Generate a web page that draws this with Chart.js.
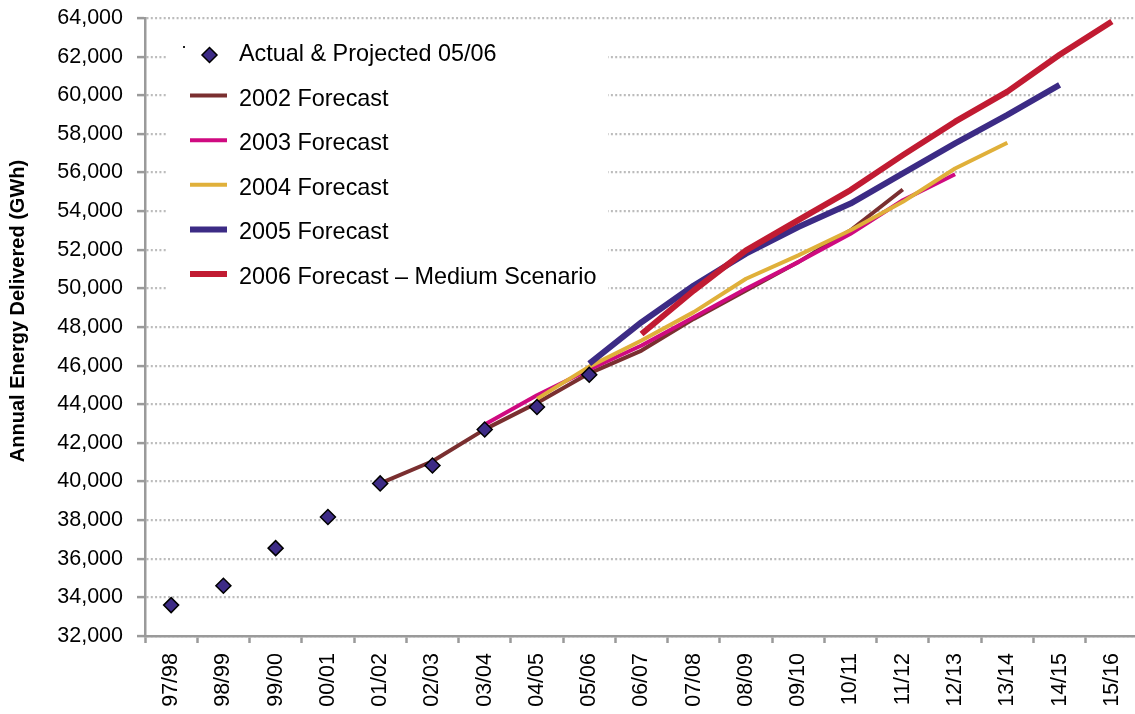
<!DOCTYPE html>
<html>
<head>
<meta charset="utf-8">
<title>Annual Energy Delivered</title>
<script src="https://cdn.jsdelivr.net/npm/chart.js@4.4.1/dist/chart.umd.min.js"></script>
<style>
  html, body { margin: 0; padding: 0; background: #fff; overflow: hidden; }
  #wrap { width: 1147px; height: 714px; }
</style>
</head>
<body>
<div id="wrap"><canvas id="c" width="1147" height="714"></canvas></div>
<script>
// Fiscal years on the category axis
const categories = ['97/98','98/99','99/00','00/01','01/02','02/03','03/04','04/05','05/06','06/07',
                    '07/08','08/09','09/10','10/11','11/12','12/13','13/14','14/15','15/16'];

// Annual energy delivered, GWh (null = no value for that year)
const actual     = [33600, 34600, 36550, 38160, 39900, 40830, 42690, 43860, 45530,
                    null, null, null, null, null, null, null, null, null, null];
const fc2002     = [null, null, null, null, 39900, 41050, 42700, 44070, 45600, 46780,
                    48420, 49890, 51360, 53010, 55120, null, null, null, null];
const fc2003     = [null, null, null, null, null, null, 42950, 44470, 45800, 47040,
                    48510, 49980, 51360, 52830, 54560, 55910, null, null, null];
const fc2004     = [null, null, null, null, null, null, null, 44280, 45950, 47300,
                    48770, 50500, 51710, 53010, 54480, 56210, 57540, null, null];
const fc2005     = [null, null, null, null, null, null, null, null, 46100, 48250,
                    50150, 51800, 53180, 54390, 55950, 57510, 58980, 60540, null];
const fc2006     = [null, null, null, null, null, null, null, null, null, 47640,
                    49890, 51970, 53530, 55090, 56900, 58630, 60190, 62100, 63820];

// Value axis range
const yMin = 32000, yMax = 64000, yStep = 2000;

const FONT = "'Liberation Sans', Arial, Helvetica, sans-serif";

const lineSet = (label, data, color, width, order) => ({
  label, data, borderColor: color, backgroundColor: color, borderWidth: width,
  pointRadius: 0, pointHoverRadius: 0, tension: 0, spanGaps: false,
  borderCapStyle: 'butt', borderJoinStyle: 'round', fill: false, order
});

const datasets = [
  {
    label: 'Actual & Projected 05/06', data: actual, showLine: false,
    pointStyle: 'rectRot', pointRadius: 7.5, pointHoverRadius: 7.5,
    pointBackgroundColor: '#3d2b86', pointBorderColor: '#000', pointBorderWidth: 1.5,
    borderColor: '#3d2b86', backgroundColor: '#3d2b86', order: 0
  },
  lineSet('2002 Forecast', fc2002, '#7a2f30', 4, 5),
  lineSet('2003 Forecast', fc2003, '#cf0a80', 4, 4),
  lineSet('2004 Forecast', fc2004, '#e0b03a', 4, 3),
  lineSet('2005 Forecast', fc2005, '#3c2b85', 6, 2),
  lineSet('2006 Forecast \u2013 Medium Scenario', fc2006, '#c11b32', 6, 1)
];

// White panel behind the key, painted over the grid
const keyPanel = {
  id: 'keyPanel',
  beforeDatasetsDraw(chart) {
    const ctx = chart.ctx;
    ctx.save();
    ctx.fillStyle = '#fff';
    ctx.fillRect(168, 34, 440, 270);
    ctx.restore();
  }
};

// Key drawn inside the plot, one row per series
const keyItems = {
  id: 'keyItems',
  afterDraw(chart) {
    const ctx = chart.ctx;
    const x0 = 190, x1 = 227, tx = 239, rowTop = 53, rowGap = 44.6;
    ctx.save();
    ctx.font = `23.4px ${FONT}`;
    ctx.textBaseline = 'alphabetic';
    ctx.textAlign = 'left';
    chart.data.datasets.forEach((ds, i) => {
      const cy = rowTop + i * rowGap;
      if (ds.showLine === false) {
        // tiny key tick and the diamond marker
        ctx.fillStyle = '#222';
        ctx.fillRect(x0 - 7, cy - 7, 2, 2);
        const r = ds.pointRadius;
        const mx = (x0 + x1) / 2 + 1, my = cy + 2;
        ctx.beginPath();
        ctx.moveTo(mx, my - r);
        ctx.lineTo(mx + r, my);
        ctx.lineTo(mx, my + r);
        ctx.lineTo(mx - r, my);
        ctx.closePath();
        ctx.fillStyle = ds.pointBackgroundColor;
        ctx.fill();
        ctx.lineWidth = ds.pointBorderWidth;
        ctx.strokeStyle = ds.pointBorderColor;
        ctx.stroke();
      } else {
        ctx.beginPath();
        ctx.moveTo(x0, cy - 2);
        ctx.lineTo(x1, cy - 2);
        ctx.lineWidth = ds.borderWidth;
        ctx.strokeStyle = ds.borderColor;
        ctx.lineCap = 'butt';
        ctx.stroke();
      }
      ctx.fillStyle = '#000';
      ctx.fillText(ds.label, tx, cy + 8);
    });
    ctx.restore();
  }
};

// Vertical title of the value axis
const valueTitle = {
  id: 'valueTitle',
  afterDraw(chart) {
    const ctx = chart.ctx;
    ctx.save();
    ctx.translate(18, 311);
    ctx.rotate(-Math.PI / 2);
    ctx.font = `bold 20px ${FONT}`;
    ctx.fillStyle = '#000';
    ctx.textAlign = 'center';
    ctx.textBaseline = 'middle';
    ctx.fillText('Annual Energy Delivered (GWh)', 0, 0);
    ctx.restore();
  }
};

new Chart(document.getElementById('c'), {
  type: 'line',
  data: { labels: categories, datasets },
  plugins: [keyPanel, keyItems, valueTitle],
  options: {
    responsive: false,
    animation: false,
    events: [],
    layout: { padding: { top: 18, right: 0, left: 0, bottom: 0 } },
    plugins: { legend: { display: false }, tooltip: { enabled: false } },
    scales: {
      x: {
        type: 'category',
        offset: true,
        grid: {
          offset: true, drawOnChartArea: false, drawTicks: true,
          tickLength: 7, tickColor: '#9a9a9a', tickWidth: 2.5, tickBorderDash: []
        },
        border: { color: '#9a9a9a', width: 2.5 },
        ticks: {
          color: '#000', font: { family: FONT, size: 21.5 },
          maxRotation: 90, minRotation: 90, autoSkip: false, padding: 10
        },
        afterFit(scale) { scale.height = 78; scale.paddingRight = 0; }
      },
      y: {
        min: yMin, max: yMax,
        grid: {
          color: '#bcbcbc', lineWidth: 2.2,
          tickColor: '#9a9a9a', tickWidth: 2.5, tickLength: 8, tickBorderDash: []
        },
        border: { color: '#9a9a9a', width: 2.5, dash: [2, 2.3] },
        ticks: {
          stepSize: yStep, color: '#000', font: { family: FONT, size: 21.5 }, padding: 14,
          callback: v => v.toLocaleString('en-US')
        },
        afterFit(scale) {
          scale.width = 145;
          scale.paddingTop = 0;
          scale.paddingBottom = 0;
        }
      }
    }
  }
});
</script>
</body>
</html>
